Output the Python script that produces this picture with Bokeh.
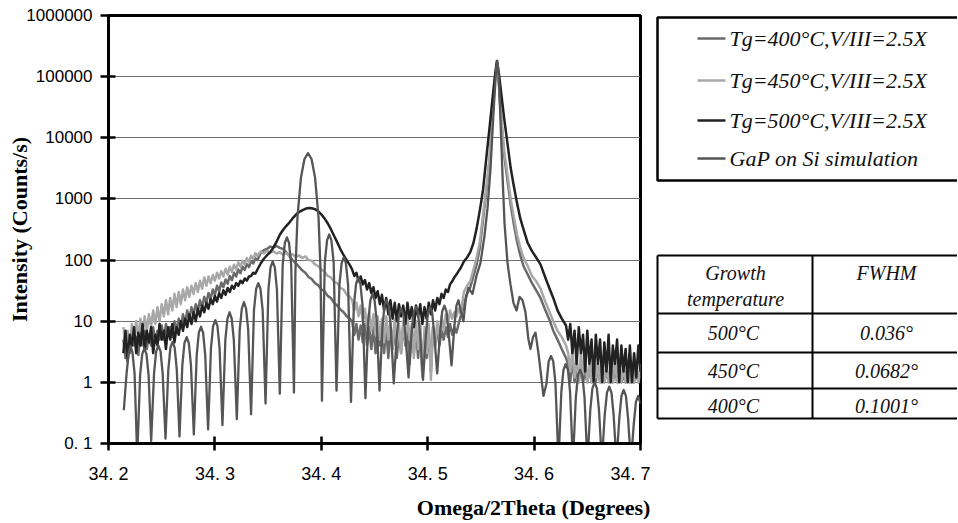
import math
from bokeh.plotting import figure
from bokeh.models import Range1d, FixedTicker, CustomJSTickFormatter, LinearAxis
from bokeh.layouts import row
from bokeh.embed import file_html
from bokeh.resources import INLINE
from bokeh.core.properties import value

# ---------------- axis ticks / titles ----------------
x_ticks = [34.2, 34.3, 34.4, 34.5, 34.6, 34.7]
x_tick_labels = ["34. 2", "34. 3", "34. 4", "34. 5", "34. 6", "34. 7"]
y_ticks = [0.1, 1, 10, 100, 1000, 10000, 100000, 1000000]
y_tick_labels = ["0. 1", "1", "10", "100", "1000", "10000", "100000", "1000000"]
x_title = "Omega/2Theta (Degrees)"
y_title = "Intensity (Counts/s)"

# ---------------- measured scans (shared omega/2theta grid) ----------------
scan_x = [
    34.214, 34.216, 34.218, 34.220, 34.222, 34.224, 34.226, 34.228, 34.230, 34.232,
    34.234, 34.236, 34.238, 34.240, 34.242, 34.244, 34.246, 34.248, 34.250, 34.252,
    34.254, 34.256, 34.258, 34.260, 34.262, 34.264, 34.266, 34.268, 34.270, 34.272,
    34.274, 34.276, 34.278, 34.280, 34.282, 34.284, 34.286, 34.288, 34.290, 34.292,
    34.294, 34.296, 34.298, 34.300, 34.302, 34.304, 34.306, 34.308, 34.310, 34.312,
    34.314, 34.316, 34.318, 34.320, 34.322, 34.324, 34.326, 34.328, 34.330, 34.332,
    34.334, 34.336, 34.338, 34.340,
    34.343, 34.346, 34.349, 34.352, 34.355, 34.358, 34.361, 34.364, 34.367, 34.370,
    34.373, 34.376, 34.379, 34.382, 34.385, 34.388, 34.391, 34.394, 34.397, 34.400,
    34.403, 34.406, 34.409, 34.412, 34.415, 34.418, 34.421, 34.424, 34.427,
    34.429, 34.431, 34.433, 34.435, 34.437, 34.439, 34.441, 34.443, 34.445, 34.447,
    34.449, 34.451, 34.453, 34.455, 34.457, 34.459, 34.461, 34.463, 34.465, 34.467,
    34.469, 34.471, 34.473, 34.475, 34.477, 34.479, 34.481, 34.483, 34.485, 34.487,
    34.489, 34.491, 34.493, 34.495, 34.497, 34.499, 34.501, 34.503, 34.505, 34.507,
    34.509, 34.511, 34.513, 34.515, 34.517, 34.519, 34.521, 34.523, 34.525, 34.527,
    34.529, 34.531,
    34.534, 34.537, 34.540, 34.543, 34.546, 34.549, 34.552, 34.555, 34.558, 34.561,
    34.563, 34.565, 34.567, 34.569, 34.572, 34.575, 34.578, 34.581, 34.584, 34.587,
    34.590, 34.594, 34.598, 34.602, 34.606, 34.610, 34.614, 34.618, 34.622, 34.626,
    34.630,
    34.632, 34.634, 34.636, 34.638, 34.640, 34.642, 34.644, 34.646, 34.648, 34.650,
    34.652, 34.654, 34.656, 34.658, 34.660, 34.662, 34.664, 34.666, 34.668, 34.670,
    34.672, 34.674, 34.676, 34.678, 34.680, 34.682, 34.684, 34.686, 34.688, 34.690,
    34.692, 34.694, 34.696, 34.698, 34.700,
]

y_400 = [
    5, 2.5, 6, 3, 7, 4, 5.5, 2.8, 6.5, 4,
    7, 3.5, 6, 4, 8, 4.5, 7, 5, 8.5, 5,
    9, 6, 8, 5.5, 10, 7, 11, 8, 13, 9,
    15, 11, 17, 13, 19, 15, 22, 17, 25, 20,
    29, 23, 33, 27, 38, 31, 43, 36, 48, 41,
    55, 47, 62, 54, 70, 61, 78, 69, 86, 77,
    96, 88, 108, 100,
    130, 145, 152, 166, 162, 170, 158, 152, 134, 116,
    100, 88, 78, 68, 62, 53, 49, 42, 39, 33,
    31, 26, 24, 20, 18, 15.5, 14, 12, 11,
    10, 6, 9, 5, 8.5, 4.5, 9, 4, 8, 3.5,
    8, 3, 7.5, 4, 9, 3, 8, 2.5, 7, 3.5,
    8, 2.5, 7, 3, 9, 4, 7.5, 2, 8, 3,
    7, 2.5, 8, 1.3, 6.5, 2.5, 7, 1.5, 8, 4,
    8, 4, 7, 5, 8, 5.5, 9, 6, 8, 6.5,
    9, 12,
    18, 28, 36, 55, 85, 160, 450, 1300, 4000, 22000,
    80000, 160000, 70000, 20000, 5000, 2000, 800, 380, 200, 120,
    80, 58, 42, 32, 24, 16, 11, 7, 5, 3.5,
    2.5,
    2, 1, 2.5, 1, 1.8, 1, 2, 1, 1.5, 1,
    1.8, 1, 1.5, 1, 2, 1, 1.5, 1, 1.6, 1,
    1.4, 1, 1.8, 1, 1.5, 1, 1.3, 1, 1.6, 1,
    1.4, 1, 1.5, 1, 1.3,
]

y_450 = [
    8, 4, 7, 3.5, 9, 5, 10, 5.5, 11, 6,
    12, 7, 13, 8, 15, 9, 17, 10, 19, 12,
    22, 13, 24, 15, 28, 17, 30, 19, 33, 22,
    36, 25, 38, 28, 42, 30, 46, 34, 52, 38,
    54, 42, 57, 46, 62, 50, 66, 54, 72, 58,
    78, 64, 84, 70, 92, 78, 98, 84, 108, 92,
    118, 104, 130, 118,
    138, 128, 142, 132, 140, 128, 135, 122, 130, 118,
    125, 112, 120, 108, 115, 100, 98, 85, 80, 70,
    65, 55, 52, 44, 42, 35, 33, 27, 25,
    22, 15, 20, 12, 18, 10, 16, 8, 14, 7,
    13, 6, 12, 5, 11, 4.5, 12, 5, 10, 3.5,
    11, 4, 9, 3, 10, 4.5, 12, 5, 9, 2.5,
    10, 3.5, 9, 1.2, 8, 3, 9, 1.1, 8, 4,
    10, 5, 12, 7, 13, 9, 15, 11, 14, 12,
    16, 13,
    30, 38, 45, 70, 110, 200, 550, 1500, 4500, 25000,
    90000, 170000, 80000, 25000, 6000, 2500, 1000, 500, 260, 160,
    110, 80, 55, 45, 34, 22, 15, 10, 7, 5.5,
    4,
    3, 1.5, 3.5, 1.2, 2.5, 1, 3, 1.3, 2.5, 1,
    2, 1, 2.5, 1.2, 2, 1, 2.2, 1, 1.8, 1,
    2, 1, 2.5, 1, 2, 1, 1.8, 1, 2.2, 1,
    2, 1, 1.8, 1, 2,
]

y_500 = [
    3, 7, 2.2, 6, 4, 8, 3, 6.5, 4, 9,
    3.5, 7, 4.5, 8, 3, 6, 4, 9, 5, 7,
    3.5, 8, 5, 9, 4.5, 8, 6, 10, 7, 11,
    8, 13, 9, 14, 10, 16, 12, 18, 14, 20,
    16, 23, 19, 26, 21, 29, 24, 32, 27, 35,
    30, 38, 34, 42, 38, 46, 42, 50, 46, 54,
    55, 62, 60, 70,
    88, 105, 120, 135, 160, 200, 260, 310, 360, 410,
    480, 550, 610, 650, 690, 710, 705, 680, 630, 560,
    480, 400, 320, 250, 195, 150, 120, 98, 82,
    70, 55, 62, 45, 54, 40, 47, 33, 42, 29,
    36, 24, 31, 19, 27, 15, 24, 13, 22, 11,
    20, 10, 19, 12, 18, 9, 20, 11, 17, 8,
    18, 12, 19, 9, 17, 11, 20, 13, 22, 15,
    24, 19, 28, 24, 33, 30, 40, 45, 52, 58,
    66, 74,
    95, 110, 135, 190, 330, 650, 1400, 4500, 14000, 45000,
    95000, 180000, 110000, 55000, 20000, 8000, 3200, 1600, 850, 480,
    320, 190, 140, 110, 85, 55, 36, 24, 15, 11,
    8.5,
    5, 9, 3, 7, 2, 8, 3, 6, 1.5, 7,
    2, 5, 1, 6, 2, 5, 1, 4.5, 1.5, 6,
    1, 4, 2, 5, 1, 4, 1.5, 3.5, 1, 4,
    1, 3, 1.2, 4, 1.5,
]

# ---------------- simulation ----------------
sim_x = [
    34.2144, 34.2170, 34.2190, 34.2207, 34.2225, 34.2245, 34.2270,
    34.2297, 34.2317, 34.2337, 34.2357, 34.2377, 34.2401,
    34.2428, 34.2448, 34.2469, 34.2489, 34.2509, 34.2536,
    34.2562, 34.2582, 34.2602, 34.2622, 34.2642, 34.2667,
    34.2694, 34.2714, 34.2735, 34.2755, 34.2775, 34.2802,
    34.2829, 34.2849, 34.2869, 34.2889, 34.2909, 34.2936,
    34.2963, 34.2983, 34.3004, 34.3024, 34.3044, 34.3071,
    34.3098, 34.3118, 34.3138, 34.3158, 34.3178, 34.3206,
    34.3233, 34.3253, 34.3273, 34.3293, 34.3313, 34.3340,
    34.3367, 34.3388, 34.3408, 34.3428, 34.3449, 34.3476,
    34.3503, 34.3523, 34.3543, 34.3563, 34.3583, 34.3610,
    34.3637, 34.3657, 34.3677, 34.3697, 34.3717, 34.3743,
    34.3757, 34.3776, 34.3809, 34.3842, 34.3875, 34.3908, 34.3941, 34.3974, 34.3993, 34.4006,
    34.4033, 34.4054, 34.4074, 34.4095, 34.4116, 34.4143,
    34.4170, 34.4191, 34.4211, 34.4231, 34.4252, 34.4279,
    34.4306, 34.4327, 34.4347, 34.4367, 34.4388, 34.4415,
    34.4441, 34.4461, 34.4481, 34.4501, 34.4521, 34.4547,
    34.4574, 34.4594, 34.4614, 34.4634, 34.4654, 34.4681,
    34.4709, 34.4730, 34.4750, 34.4771, 34.4792, 34.4820,
    34.4847, 34.4868, 34.4888, 34.4908, 34.4929, 34.4956,
    34.4983, 34.5003, 34.5022, 34.5042, 34.5062, 34.5089,
    34.5116, 34.5136, 34.5157, 34.5177, 34.5197, 34.5224,
    34.5250, 34.5270, 34.5289, 34.5310, 34.5336, 34.5360, 34.5383, 34.5421, 34.5458, 34.5496,
    34.5534, 34.5562, 34.5590, 34.5618, 34.5645, 34.5655, 34.5666, 34.5684, 34.5703, 34.5722,
    34.5750, 34.5778, 34.5806, 34.5835, 34.5863, 34.5891, 34.5919, 34.5947, 34.5966, 34.5990,
    34.6013, 34.6041, 34.6088,
    34.6116, 34.6137, 34.6159, 34.6180, 34.6201, 34.6229,
    34.6256, 34.6276, 34.6297, 34.6318, 34.6338, 34.6365,
    34.6392, 34.6412, 34.6433, 34.6454, 34.6474, 34.6501,
    34.6528, 34.6548, 34.6569, 34.6590, 34.6610, 34.6637,
    34.6664, 34.6685, 34.6706, 34.6727, 34.6747, 34.6774,
    34.6801, 34.6821, 34.6842, 34.6863, 34.6883, 34.6910,
    34.6937, 34.6957, 34.6978, 34.7000,
]
sim_y = [
    0.35, 1.4, 3.1, 3.9, 3.1, 1.4, 0.06,
    1.3, 2.9, 3.6, 2.9, 1.3, 0.11,
    1.4, 3.2, 4.0, 3.2, 1.4, 0.12,
    1.6, 3.7, 4.6, 3.7, 1.6, 0.13,
    1.9, 4.4, 5.5, 4.4, 1.9, 0.14,
    2.8, 6.5, 8.1, 6.5, 2.8, 0.17,
    3.6, 8.3, 10.4, 8.3, 3.6, 0.2,
    4.9, 11, 14, 11, 4.9, 0.25,
    7.2, 16, 20.5, 16, 7.2, 0.3,
    15, 34, 42, 34, 15, 0.45,
    33, 76, 95, 76, 33, 0.65,
    82, 190, 235, 190, 82, 0.68,
    67, 500, 2270, 4500, 5600, 4500, 2270, 500, 67, 0.5,
    92, 210, 262, 210, 92, 0.73,
    39, 89, 111, 89, 39, 0.48,
    18, 41, 51, 41, 18, 0.55,
    9.8, 22, 28, 22, 9.8, 0.73,
    7.7, 18, 22, 18, 7.7, 0.96,
    5.6, 13, 16, 13, 5.6, 1.2,
    6, 14, 17, 14, 6, 1.1,
    6, 14, 17, 14, 6, 1.4,
    6.3, 14.4, 18, 14.4, 6.3, 1.9,
    8, 18, 22, 15, 10, 25, 35, 28, 55, 90,
    250, 700, 3000, 25000, 150000, 180000, 120000, 20000, 2500, 400,
    90, 40, 20, 15, 25, 22, 14, 5, 3.5, 5.5,
    6.5, 3, 0.6,
    0.95, 2.2, 2.7, 2.2, 0.95, 0.05,
    0.7, 1.6, 2.0, 1.6, 0.7, 0.05,
    0.56, 1.3, 1.6, 1.3, 0.56, 0.05,
    0.35, 0.8, 1.0, 0.8, 0.35, 0.05,
    0.3, 0.68, 0.85, 0.68, 0.3, 0.05,
    0.26, 0.6, 0.75, 0.6, 0.26, 0.05,
    0.21, 0.48, 0.6, 0.45,
]

# ---------------- legend & table ----------------
legend_labels = ["Tg=400°C,V/III=2.5X", "Tg=450°C,V/III=2.5X",
                 "Tg=500°C,V/III=2.5X", "GaP on Si simulation"]
series_colors = ["#6a6a6a", "#a8a8a8", "#222222", "#555555"]
table_header = ["Growth", "temperature", "FWHM"]
table_temps = ["500°C", "450°C", "400°C"]
table_fwhm = ["0.036°", "0.0682°", "0.1001°"]

FONT_SERIF = "Liberation Serif"
FONT_SANS = "Liberation Sans"

# ---------------- main chart ----------------
p = figure(frame_width=532, frame_height=428,
           x_range=Range1d(34.2, 34.7), y_range=Range1d(0.1, 1e6),
           y_axis_type="log", output_backend="svg", toolbar_location=None,
           min_border_left=108, min_border_right=10,
           min_border_top=15, min_border_bottom=79)
p.background_fill_color = "white"
p.border_fill_color = "white"
p.outline_line_color = "black"
p.outline_line_width = 3

p.xgrid.visible = False
p.ygrid.ticker = FixedTicker(ticks=y_ticks)
p.ygrid.grid_line_color = "#6e6e6e"
p.ygrid.grid_line_width = 1

fx = CustomJSTickFormatter(args=dict(tv=x_ticks, tl=x_tick_labels), code="""
const i = tv.findIndex(t => Math.abs(t - tick) < 1e-6);
return i >= 0 ? tl[i] : "";
""")
fy = CustomJSTickFormatter(args=dict(tv=y_ticks, tl=y_tick_labels), code="""
const i = tv.findIndex(t => Math.abs(t - tick) < 1e-6 * t);
return i >= 0 ? tl[i] : "";
""")
p.xaxis.ticker = FixedTicker(ticks=x_ticks, minor_ticks=[])
p.yaxis.ticker = FixedTicker(ticks=y_ticks, minor_ticks=[])
p.xaxis.formatter = fx
p.yaxis.formatter = fy
for ax in (p.xaxis, p.yaxis):
    ax.axis_line_width = 3
    ax.axis_line_color = "black"
    ax.major_tick_line_width = 2.5
    ax.major_tick_line_color = "black"
    ax.minor_tick_line_color = None
    ax.major_label_text_font = FONT_SANS
    ax.major_label_text_color = "black"
p.xaxis.major_tick_in = 7
p.xaxis.major_tick_out = 7
p.xaxis.major_label_standoff = 13
p.xaxis.major_label_text_font_size = "18px"
p.yaxis.major_tick_in = 7
p.yaxis.major_tick_out = 8
p.yaxis.major_label_standoff = 8
p.yaxis.major_label_text_font_size = "17px"

# y-axis title
p.yaxis.axis_label = y_title
p.yaxis.axis_label_text_font = FONT_SERIF
p.yaxis.axis_label_text_font_style = "bold"
p.yaxis.axis_label_text_font_size = "22px"
p.yaxis.axis_label_text_color = "black"
p.yaxis.axis_label_standoff = -9

# x-axis title: an axis below the tick labels carrying one centred label
title_axis = LinearAxis(
    ticker=FixedTicker(ticks=[34.5995], minor_ticks=[]),
    formatter=CustomJSTickFormatter(args=dict(ttl=x_title), code="return ttl;"),
    axis_line_color=None, major_tick_line_color=None, minor_tick_line_color=None,
    major_tick_in=0, major_tick_out=0, major_label_standoff=8,
    major_label_text_font=FONT_SERIF, major_label_text_font_style="bold",
    major_label_text_font_size="22px", major_label_text_color="black")
p.add_layout(title_axis, "below")

n = min(len(scan_x), len(y_400), len(y_450), len(y_500))
m = min(len(sim_x), len(sim_y))
p.line(scan_x[:n], y_400[:n], line_color=series_colors[0], line_width=2.5, line_join="round")
p.line(scan_x[:n], y_450[:n], line_color=series_colors[1], line_width=2.5, line_join="round")
p.line(scan_x[:n], y_500[:n], line_color=series_colors[2], line_width=2.5, line_join="round")
p.line(sim_x[:m], sim_y[:m], line_color=series_colors[3], line_width=2.3, line_join="round")

# ---------------- side panel: legend box and FWHM table ----------------
# its frame is aligned with the chart frame (image y 15..443)
q = figure(frame_width=307, frame_height=428, x_range=Range1d(650, 957), y_range=Range1d(443, 15),
           output_backend="svg", toolbar_location=None,
           min_border_left=0, min_border_right=0, min_border_top=15, min_border_bottom=79,
           x_axis_location=None, y_axis_location=None)
q.outline_line_color = None
q.grid.visible = False
q.background_fill_color = "white"
q.border_fill_color = "white"

# legend box
q.line([965, 657, 657, 965], [17, 17, 180, 180], line_color="black", line_width=2.5)
leg_y = [38, 80, 120, 158]
q.segment(x0=[697] * 4, y0=leg_y, x1=[725] * 4, y1=leg_y,
          line_color=series_colors, line_width=2.5)
q.text(x=[729] * 4, y=leg_y, text=legend_labels, text_font=value(FONT_SERIF),
       text_font_style="italic", text_font_size="22px", text_baseline="middle",
       text_color="#111111")

# table grid
q.segment(x0=[657, 657, 657, 657, 657, 657, 812],
          y0=[255, 418, 313, 352, 388, 255, 255],
          x1=[965, 965, 965, 965, 965, 657, 812],
          y1=[255, 418, 313, 352, 388, 418, 418],
          line_color="black", line_width=2)
q.text(x=[735, 735, 886], y=[272, 298, 272], text=table_header,
       text_font=value(FONT_SERIF), text_font_style="italic", text_font_size="20px",
       text_align="center", text_baseline="middle", text_color="#111111")
row_y = [332, 370, 405]
q.text(x=[733] * 3, y=row_y, text=table_temps,
       text_font=value(FONT_SERIF), text_font_style="italic", text_font_size="20px",
       text_align="center", text_baseline="middle", text_color="#111111")
q.text(x=[886] * 3, y=row_y, text=table_fwhm,
       text_font=value(FONT_SERIF), text_font_style="italic", text_font_size="20px",
       text_align="center", text_baseline="middle", text_color="#111111")

layout = row(p, q)
open("out.html", "w").write(file_html(layout, INLINE))
